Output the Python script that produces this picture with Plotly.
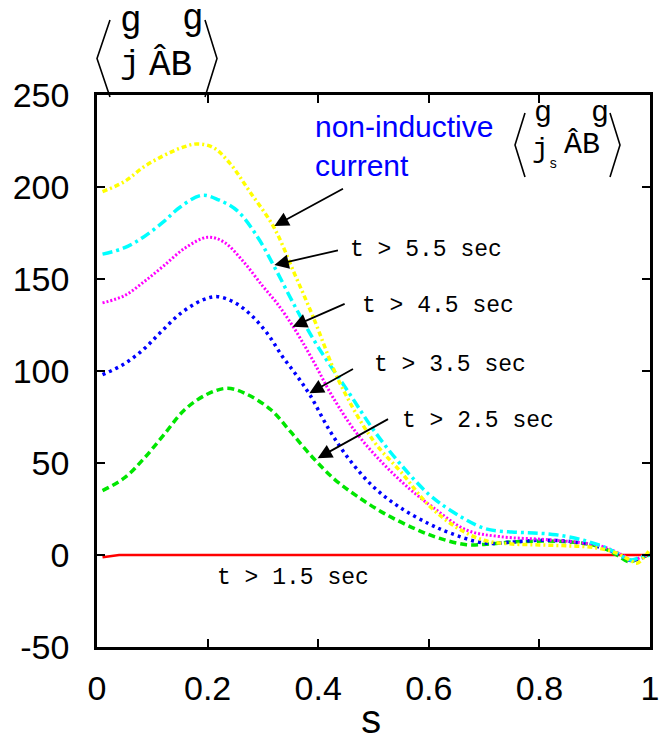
import plotly.graph_objects as go

# ---- data ----
s_red = [0.01, 0.04, 0.2, 0.4, 0.6, 0.8, 1.0]
v_red = [-1.2, 0.0, 0.0, 0.0, 0.0, 0.0, 0.0]

s_green = [0.01, 0.05, 0.085, 0.12, 0.158, 0.2, 0.236, 0.27, 0.315, 0.35, 0.39, 0.43, 0.47, 0.52,
           0.577, 0.62, 0.668, 0.71, 0.758, 0.849, 0.909, 0.94, 0.961, 0.98, 0.997]
v_green = [35, 42, 52.5, 65, 78.8, 87.5, 90.6, 87.5, 78.8, 67, 53, 41, 32, 22.5,
           14, 9, 5.6, 6, 7.2, 7.2, 4.5, 0, -3.6, -2, 0]

s_blue = [0.01, 0.05, 0.085, 0.115, 0.15, 0.19, 0.218, 0.25, 0.28, 0.309, 0.335, 0.36, 0.385, 0.42,
          0.456, 0.5, 0.547, 0.6, 0.638, 0.7, 0.75, 0.8, 0.85, 0.9, 0.94, 0.965, 0.985, 1.0]
v_blue = [98, 104, 112, 121, 131, 138.5, 140.4, 137, 130, 120, 108, 98, 87, 68,
          52, 37, 26, 17, 12, 6.5, 7, 8, 7.5, 5, 1, -3, -1.5, 0]

s_magenta = [0.01, 0.05, 0.085, 0.12, 0.16, 0.2, 0.23, 0.266, 0.3, 0.325, 0.357, 0.39, 0.426, 0.47,
             0.517, 0.565, 0.607, 0.668, 0.728, 0.82, 0.91, 0.95, 0.968, 0.985, 1.0]
v_magenta = [137, 141, 148.5, 157, 167, 172.7, 170, 159, 146, 137, 123, 106, 86, 66,
             49.8, 36, 26, 13.6, 10, 8.2, 5, 0, -3, -1, 0]

s_cyan = [0.01, 0.05, 0.085, 0.12, 0.15, 0.19, 0.22, 0.254, 0.29, 0.32, 0.36, 0.4, 0.456, 0.5,
          0.547, 0.6, 0.638, 0.7, 0.75, 0.79, 0.83, 0.88, 0.92, 0.94, 0.965, 0.98, 1.0]
v_cyan = [163.5, 167, 173, 181, 189, 195.5, 193, 187, 173, 157, 134, 113, 88, 68,
          50, 33, 24.5, 14.5, 12.5, 12, 11, 8, 4, 1, -2.7, -1.5, 0]

s_yellow = [0.01, 0.05, 0.085, 0.12, 0.15, 0.18, 0.21, 0.24, 0.275, 0.32, 0.357, 0.39, 0.44, 0.5,
            0.55, 0.6, 0.65, 0.7, 0.75, 0.8, 0.85, 0.9, 0.94, 0.965, 0.976, 0.99, 1.0]
v_yellow = [197.5, 203, 211, 217, 221, 223.4, 221.5, 213, 198, 178, 153, 130, 93, 62,
            45, 27, 15, 8, 6, 5.5, 5, 4, 1, -3, -4.5, -1, 3]

x_ticks = [0, 0.2, 0.4, 0.6, 0.8, 1]
x_ticklabels = ["0", "0.2", "0.4", "0.6", "0.8", "1"]
y_ticks = [-50, 0, 50, 100, 150, 200, 250]
y_ticklabels = ["-50", "0", "50", "100", "150", "200", "250"]

x_title = "s"
time_labels = ["t > 1.5 sec", "t > 2.5 sec", "t > 3.5 sec", "t > 4.5 sec", "t > 5.5 sec"]

fig = go.Figure()

series = [
    (s_red, v_red, "#ff0000", "solid", 2.5, "linear"),
    (s_green, v_green, "#00e600", "7px,4px", 3.5, "spline"),
    (s_blue, v_blue, "#0000ff", "3px,4px", 3.5, "spline"),
    (s_magenta, v_magenta, "#ff00ff", "2px,2px", 3, "spline"),
    (s_cyan, v_cyan, "#00ffff", "10px,4px,3px,4px", 3.5, "spline"),
    (s_yellow, v_yellow, "#ffff00", "5px,3px,2px,3px", 3.5, "spline"),
]
for sx, vy, col, dash, w, shp in series:
    fig.add_trace(go.Scatter(x=sx, y=vy, mode="lines",
                             line=dict(color=col, dash=dash, width=w, shape=shp),
                             showlegend=False, hoverinfo="skip"))

mono = "Liberation Mono"
annotations = []

# arrows (tip at curve, tail near label)
arrows = [
    (0.3207, 178.8, 0.4475, 199.5),
    (0.3207, 157.6, 0.4384, 165.8),
    (0.3538, 124.1, 0.4505, 136.8),
    (0.3840, 87.9, 0.4656, 101.5),
    (0.3990, 52.6, 0.5290, 74.3),
]
for tx, ty, ax, ay in arrows:
    annotations.append(dict(x=tx, y=ty, ax=ax, ay=ay, xref="x", yref="y", axref="x", ayref="y",
                            text="", showarrow=True, arrowhead=2, arrowsize=1.6, arrowwidth=1.8,
                            arrowcolor="black"))

L, R, T, B = 97, 650, 95, 647


def px(xp):
    return (xp - L) / (R - L)


def py(yp):
    return (B - yp) / (B - T)


label_pos = [(215, 578), (400, 421), (372, 365), (360, 306), (348, 250)]
for txt_, (lx, ly) in zip(time_labels, label_pos):
    annotations.append(dict(x=px(lx), y=py(ly), xref="paper", yref="paper", text=txt_,
                            showarrow=False, xanchor="left", yanchor="middle",
                            font=dict(family=mono, size=23, color="black")))

annotations.append(dict(x=px(313), y=py(146), xref="paper", yref="paper",
                        text="non-inductive<br>current", showarrow=False, xanchor="left",
                        yanchor="middle", align="left",
                        font=dict(family="Liberation Sans", size=30, color="#0000ff")))


def txt(x, y, t, size, family=mono):
    annotations.append(dict(x=px(x), y=py(y), xref="paper", yref="paper", text=t,
                            showarrow=False, xanchor="center", yanchor="middle",
                            font=dict(family=family, size=size, color="black")))


# x-axis title
txt(371, 722, x_title, 40)

# y-axis label (top left): <j.B> with broken vector marks
txt(131, 22, "g", 36)
txt(193, 20, "g", 36)
txt(130, 64, "j", 34)
txt(170, 65, "ÂB", 36)

# right label: <j_s.B>
txt(543, 113, "g", 30)
txt(600, 113, "g", 30)
txt(540, 149, "j", 28)
txt(553, 164, "s", 14)
txt(582, 145, "ÂB", 30)

# thin angle brackets of the labels
def bracket(x_out, x_in, y_top, y_bot):
    ymid = (y_top + y_bot) / 2
    return dict(type="path", xref="paper", yref="paper",
                path=f"M {px(x_in)} {py(y_top)} L {px(x_out)} {py(ymid)} L {px(x_in)} {py(y_bot)}",
                line=dict(color="black", width=1.6))


shapes = [
    bracket(97, 110, 20, 97),
    bracket(217, 205, 20, 97),
    bracket(515, 525, 113, 177),
    bracket(620, 610, 113, 177),
]

fig.update_layout(
    width=659, height=749,
    margin=dict(l=L, r=659 - R, t=T, b=749 - B),
    paper_bgcolor="white", plot_bgcolor="white",
    annotations=annotations, shapes=shapes,
    xaxis=dict(range=[0, 1], tickvals=x_ticks, ticktext=x_ticklabels, ticks="inside", ticklen=8,
               tickwidth=2, tickcolor="black", mirror="ticks", showline=True, linecolor="black",
               linewidth=2.5, showgrid=False, zeroline=False, automargin=False,
               ticklabeloverflow="allow",
               tickfont=dict(family="Liberation Sans", size=34, color="black"),
               ticklabelstandoff=9),
    yaxis=dict(range=[-50, 250], tickvals=y_ticks, ticktext=y_ticklabels, ticks="inside", ticklen=8,
               tickwidth=2, tickcolor="black", mirror="ticks", showline=True, linecolor="black",
               linewidth=2.5, showgrid=False, zeroline=False, automargin=False,
               tickfont=dict(family="Liberation Sans", size=34, color="black"),
               ticklabelstandoff=18),
)

fig.write_html("out.html")
